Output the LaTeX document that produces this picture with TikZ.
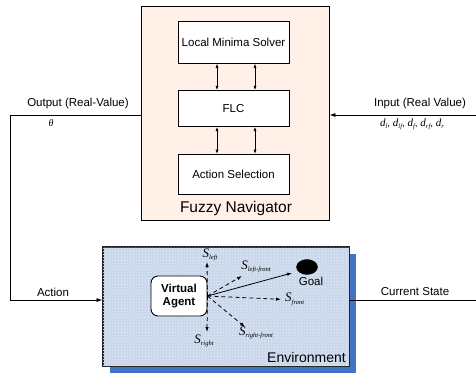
\documentclass[tikz,border=0pt]{standalone}
\usepackage{fontspec}
\setmainfont{Liberation Sans}
\newfontfamily\tms{Liberation Serif}
\usetikzlibrary{arrows.meta,shapes.geometric,shadows,patterns}
\definecolor{navfill}{RGB}{255,241,232}
\definecolor{envfill}{RGB}{200,214,235}
\definecolor{envshadow}{RGB}{68,114,196}
\newcommand{\Slab}[1]{{\tms\itshape\fontsize{13}{13}\selectfont S\raisebox{-2.5pt}{\fontsize{6.5}{7}\selectfont #1}}}
\newcommand{\dlab}[1]{{\tms\itshape\fontsize{11}{12}\selectfont d\raisebox{-2pt}{\fontsize{6.5}{7}\selectfont #1}}}
\begin{document}
\begin{tikzpicture}[x=1pt,y=-1pt,
  lbl/.style={font=\fontsize{11.5}{13}\selectfont, inner sep=0pt},
  innerbox/.style={draw=black, fill=white, line width=0.8pt, minimum width=111pt, inner sep=0pt, font=\fontsize{11.5}{13}\selectfont},
  navbox/.style={draw=black, fill=navfill, line width=0.9pt, minimum width=188pt, minimum height=214pt, inner sep=0pt},
  envbox/.style={draw=black!85, fill=envfill, line width=0.9pt, minimum width=246pt, minimum height=119pt, inner sep=0pt,
     drop shadow={shadow xshift=7pt, shadow yshift=-7pt, fill=envshadow, opacity=1}},
  agent/.style={draw=black, fill=white, line width=0.9pt, rounded corners=7pt, minimum width=56pt, minimum height=40pt, inner sep=0pt, align=center, font=\bfseries\fontsize{11.5}{13.5}\selectfont},
  arr/.style={line width=0.8pt, -{Latex[length=6pt,width=4pt]}},
  dbl/.style={line width=0.8pt, {Latex[length=4.5pt,width=3pt]}-{Latex[length=4.5pt,width=3pt]}},
  darr/.style={line width=0.8pt, dash pattern=on 4pt off 3pt, -{Latex[length=5pt,width=3.5pt]}},
  sarr/.style={line width=0.8pt, -{Latex[length=5pt,width=3.5pt]}},
]
\useasboundingbox (0,0) rectangle (476,373);
\fill[white] (0,0) rectangle (476,373);

% Fuzzy navigator
\node[navbox] (nav) at (235,113) {};
\node[innerbox, minimum height=42pt] (lms) at (233.5,42) {Local Minima Solver};
\node[innerbox, minimum height=35.5pt] (flc) at (233.5,108.5) {FLC};
\node[innerbox, minimum height=40pt] (as) at (233.5,174.5) {Action Selection};
\node[inner sep=0pt, font=\fontsize{15.5}{17}\selectfont] (navlbl) at (236,208) {Fuzzy Navigator};

\coordinate (xa) at (217,0);
\coordinate (xb) at (255,0);
\draw[dbl] (lms.south -| xa) -- (flc.north -| xa);
\draw[dbl] (lms.south -| xb) -- (flc.north -| xb);
\draw[dbl] (flc.south -| xa) -- (as.north -| xa);
\draw[dbl] (flc.south -| xb) -- (as.north -| xb);

% Environment
\node[envbox] (env) at (226,306.5) {};
\fill[pattern=crosshatch dots, pattern color=white!70!envfill] (env.south west) rectangle (env.north east);
\draw[draw=black!85, line width=0.9pt] (env.south west) rectangle (env.north east);
\node[inner sep=0pt, font=\fontsize{14}{16}\selectfont, anchor=south east] (envlbl) at (346,363) {Environment};

\node[agent] (va) at (179,296) {Virtual\\Agent};
\node[draw=black, fill=black, ellipse, minimum width=21pt, minimum height=15pt, inner sep=0pt] (goal) at (307,267) {};
\node[inner sep=0pt, font=\fontsize{11.5}{13}\selectfont] (goallbl) at (311,281) {Goal};

\coordinate (sl) at (207,262);
\coordinate (sr) at (207,332);
\coordinate (slf) at (242,276);
\coordinate (srf) at (245,327);
\coordinate (sg) at (292,273);
\node[inner sep=0pt] (Sl) at (210,255) {\Slab{left}};
\node[inner sep=0pt] (Sr) at (204,341) {\Slab{right}};
\node[inner sep=0pt] (Slf) at (256,267) {\Slab{left-front}};
\node[inner sep=0pt] (Srf) at (256,333) {\Slab{right-front}};
\node[inner sep=0pt, anchor=west] (Sf) at (285,299.5) {\Slab{front}};

\draw[darr] (va.east) -- (sl);
\draw[darr] (va.east) -- (sr);
\draw[darr] (va.east) -- (slf);
\draw[darr] (va.east) -- (srf);
\draw[darr, shorten >=4pt] (va.east) -- (Sf.west);
\draw[sarr] (va.east) -- (sg);

% Connections
\coordinate (oy) at (0,115);
\coordinate (ocorner) at (10,115);
\coordinate (ay) at (0,300);
\coordinate (inR) at (476,115);
\coordinate (csR) at (476,300);
\draw[arr] (nav.west |- oy) -- (ocorner) |- (env.west |- ay);
\draw[arr] (inR) -- (nav.east |- inR);
\draw[line width=0.8pt] (env.east |- csR) -- (csR);

\node[lbl] (outlbl) at (78,104) {Output (Real-Value)};
\node[inner sep=0pt, font=\tms\itshape\fontsize{10}{12}\selectfont] (theta) at (51,123) {θ};
\node[lbl] (inlbl) at (420,104) {Input (Real Value)};
\node[inner sep=0pt] (dlbl) at (412,124) {\dlab{l}, \dlab{lf}, \dlab{f}, \dlab{rf}, \dlab{r}};
\node[lbl] (actlbl) at (53,292) {Action};
\node[lbl] (cslbl) at (415,292) {Current State};
\end{tikzpicture}
\end{document}
